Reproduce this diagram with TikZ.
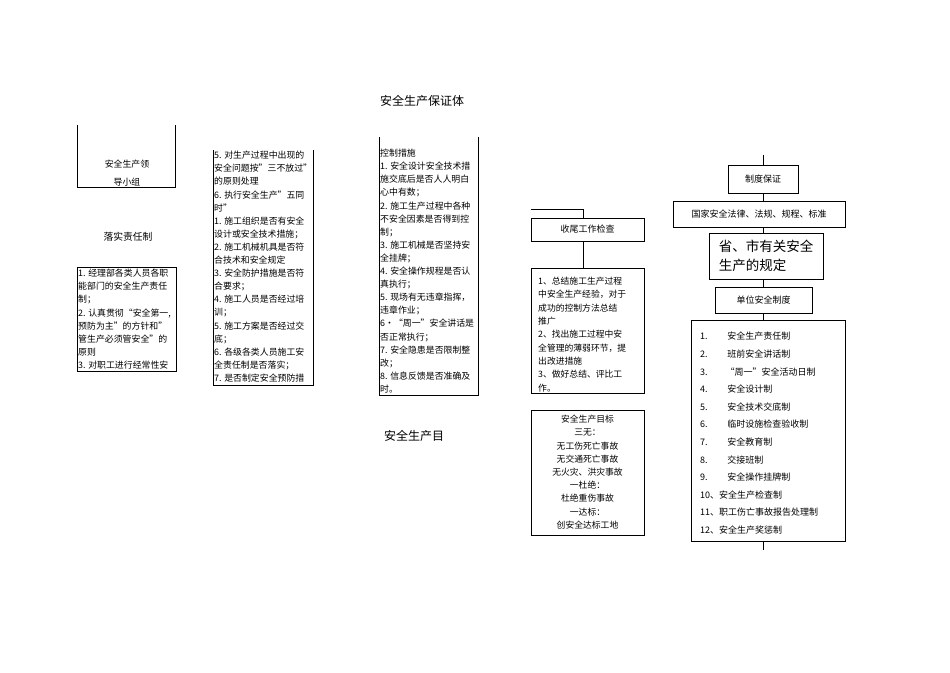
\documentclass[tikz,border=0pt]{standalone}
\usepackage{fontspec}
\setmainfont{Noto Sans CJK SC}
\begin{document}
\begin{tikzpicture}[x=1pt,y=-1pt,
  ln/.style={line width=0.8pt},
  bx/.style={draw,line width=0.8pt},
  txt/.style={anchor=north west,inner sep=0pt,align=left,font=\fontsize{8.9}{13.1}\selectfont},
  ctr/.style={inner sep=0pt,align=center,font=\fontsize{8.9}{13}\selectfont}]
\useasboundingbox (0,0) rectangle (950,672);
\node[font=\fontsize{12}{14}\selectfont] (title) at (422,101) {安全生产保证体};
% box A
\draw[ln] (77,125) -- (77,187) -- (175,187) -- (175,125);
\node[ctr] (lead) at (127,173) {安全生产领\\[5pt]导小组};
\node[ctr,font=\fontsize{9.8}{12}\selectfont] (resp) at (128,237) {落实责任制};
% box B
\draw[ln] (77,267) rectangle (176,371);
\node[txt] (b) at (78,269) {1. 经理部各类人员各职\\能部门的安全生产责任\\制；\\2. 认真贯彻“安全第一,\\预防为主”的方针和”\\管生产必须管安全”的\\原则\\3. 对职工进行经常性安};
% box C
\draw[ln] (213,150) -- (213,385) -- (313,385) -- (313,150);
\node[txt] (c) at (214,151) {5. 对生产过程中出现的\\安全问题按”三不放过”\\的原则处理\\6. 执行安全生产”五同\\时”\\1. 施工组织是否有安全\\设计或安全技术措施；\\2. 施工机械机具是否符\\合技术和安全规定\\3. 安全防护措施是否符\\合要求；\\4. 施工人员是否经过培\\训；\\5. 施工方案是否经过交\\底；\\6. 各级各类人员施工安\\全责任制是否落实；\\7. 是否制定安全预防措};
% box D
\draw[ln] (379,137) -- (379,395) -- (478,395) -- (478,137);
\node[txt] (d) at (380,149) {控制措施\\1. 安全设计安全技术措\\施交底后是否人人明白\\心中有数；\\2. 施工生产过程中各种\\不安全因素是否得到控\\制；\\3. 施工机械是否坚持安\\全挂牌；\\4. 安全操作规程是否认\\真执行；\\5. 现场有无违章指挥，\\违章作业；\\6•“周一”安全讲话是\\否正常执行；\\7. 安全隐患是否限制整\\改；\\8. 信息反馈是否准确及\\时。};
\node[font=\fontsize{12}{14}\selectfont] (goal) at (414,436) {安全生产目};
% middle right
\coordinate (m0) at (531,209);
\node[bx,minimum width=113pt,minimum height=23pt,inner sep=0pt,font=\fontsize{9}{12}\selectfont] (sw) at (587.5,229.5) {收尾工作检查};
\draw[ln] (m0) -- (583,209) -- (583,218);
\draw[bx] (531,268) rectangle (644,393);
\node[txt,font=\fontsize{8.8}{13.3}\selectfont] (swt) at (538,277) {1、总结施工生产过程\\中安全生产经验，对于\\成功的控制方法总结\\推广\\2、找出施工过程中安\\全管理的薄弱环节，提\\出改进措施\\3、做好总结、评比工\\作。};
\coordinate (swb) at (583,268);
\draw[ln] (583,241) -- (swb);
\draw[bx] (531,410) rectangle (644,535);
\node[ctr,font=\fontsize{8.8}{13.2}\selectfont] (tgt) at (587.5,472) {安全生产目标\\三无：\\无工伤死亡事故\\无交通死亡事故\\无火灾、洪灾事故\\一杜绝：\\杜绝重伤事故\\一达标：\\创安全达标工地};
% right column
\coordinate (r0) at (763,155);
\node[bx,minimum width=70pt,minimum height=28pt,inner sep=0pt,font=\fontsize{9}{12}\selectfont] (zd) at (763,179) {制度保证};
\node[bx,minimum width=172pt,minimum height=26pt,inner sep=0pt,font=\fontsize{9}{12}\selectfont] (gj) at (759,214) {国家安全法律、法规、规程、标准};
\node[bx,minimum width=114pt,minimum height=46pt,inner sep=0pt,align=left,font=\fontsize{13.5}{19}\selectfont] (sh) at (766,256) {省、市有关安全\\生产的规定};
\node[bx,minimum width=97pt,minimum height=26pt,inner sep=0pt,font=\fontsize{9}{12}\selectfont] (dw) at (763.5,300) {单位安全制度};
\node[bx,minimum width=154pt,minimum height=221pt,inner sep=0pt] (lst) at (768,430.5) {};
\coordinate (r1) at (763,550);
\draw[ln] (r0) -- (zd.north);
\draw[ln] (763,193) -- (763,201);
\draw[ln] (763,227) -- (763,233);
\draw[ln] (763,279) -- (763,287);
\draw[ln] (763,313) -- (763,320);
\draw[ln] (763,541) -- (r1);
\node[txt,font=\fontsize{9}{17.6}\selectfont] (lt) at (700,332) {1.\hspace{2.2em}安全生产责任制\\2.\hspace{2.2em}班前安全讲话制\\3.\hspace{2em}“周一”安全活动日制\\4.\hspace{2.2em}安全设计制\\5.\hspace{2.2em}安全技术交底制\\6.\hspace{2.2em}临时设施检查验收制\\7.\hspace{2.2em}安全教育制\\8.\hspace{2.2em}交接班制\\9.\hspace{2.2em}安全操作挂牌制\\10、安全生产检查制\\11、职工伤亡事故报告处理制\\12、安全生产奖惩制};
\end{tikzpicture}
\end{document}
